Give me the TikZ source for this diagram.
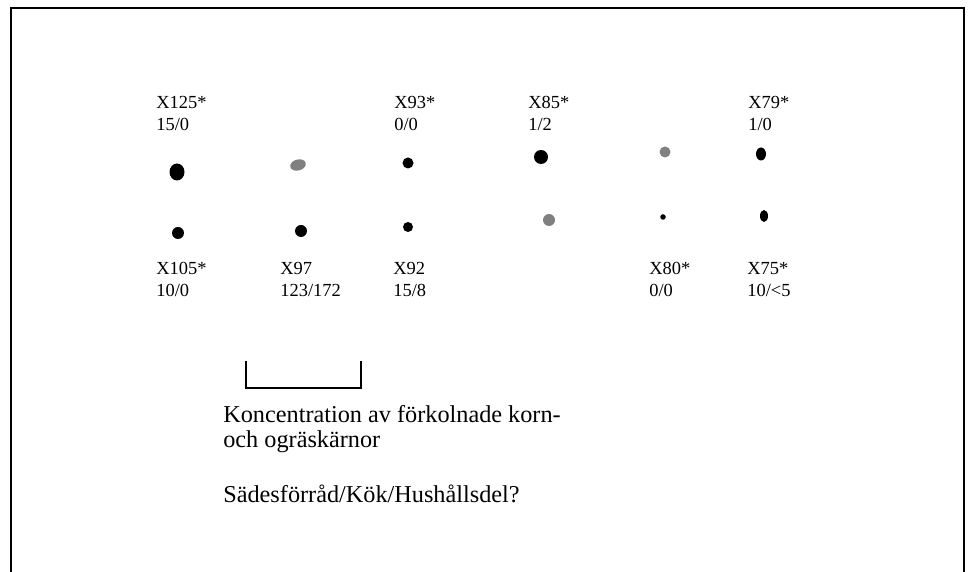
\documentclass[tikz,border=0pt]{standalone}
\usepackage{fontspec}
\setmainfont{Liberation Serif}
\begin{document}
\begin{tikzpicture}[lbl/.style={anchor=base west,inner sep=0pt,font=\fontsize{10.5pt}{12.5pt}\selectfont},
		txt/.style={anchor=base west,inner sep=0pt,font=\fontsize{13.8pt}{17pt}\selectfont}]
			\useasboundingbox (0,0) rectangle (19.42,-11.44);
			\draw[line width=1.1pt] (0.22,-11.8) -- (0.22,-0.16) -- (19.28,-0.16) -- (19.28,-11.8);
			% upper labels
			\node[lbl] (x125) at (3.12,-2.18) {X125*};
			\node[lbl] (x125n) at (3.12,-2.62) {15/0};
			\node[lbl] (x93) at (7.88,-2.18) {X93*};
			\node[lbl] (x93n) at (7.88,-2.62) {0/0};
			\node[lbl] (x85) at (10.56,-2.18) {X85*};
			\node[lbl] (x85n) at (10.56,-2.62) {1/2};
			\node[lbl] (x79) at (14.96,-2.18) {X79*};
			\node[lbl] (x79n) at (14.96,-2.62) {1/0};
			% lower labels
			\node[lbl] (x105) at (3.12,-5.50) {X105*};
			\node[lbl] (x105n) at (3.12,-5.94) {10/0};
			\node[lbl] (x97) at (5.60,-5.50) {X97};
			\node[lbl] (x97n) at (5.60,-5.94) {123/172};
			\node[lbl] (x92) at (7.86,-5.50) {X92};
			\node[lbl] (x92n) at (7.86,-5.94) {15/8};
			\node[lbl] (x80) at (12.98,-5.50) {X80*};
			\node[lbl] (x80n) at (12.98,-5.94) {0/0};
			\node[lbl] (x75) at (14.94,-5.50) {X75*};
			\node[lbl] (x75n) at (14.94,-5.94) {10/<5};
			% dots, upper row
			\fill (3.54,-3.44) ellipse [x radius=0.15cm, y radius=0.17cm];
			\fill[gray] (5.96,-3.30) ellipse [x radius=0.16cm, y radius=0.11cm, rotate=15];
			\fill (8.16,-3.26) circle (0.11cm);
			\fill (10.82,-3.14) circle (0.14cm);
			\fill[gray] (13.30,-3.04) circle (0.11cm);
			\fill (15.22,-3.08) ellipse [x radius=0.10cm, y radius=0.13cm];
			% dots, lower row
			\fill (3.56,-4.66) circle (0.12cm);
			\fill (6.02,-4.62) circle (0.12cm);
			\fill (8.16,-4.54) circle (0.10cm);
			\fill[gray] (10.98,-4.40) circle (0.12cm);
			\fill (13.26,-4.34) circle (0.055cm);
			\fill (15.28,-4.32) ellipse [x radius=0.08cm, y radius=0.12cm];
			% bracket
			\draw[line width=0.85pt] (4.92,-7.22) -- (4.92,-7.76) -- (7.22,-7.76) -- (7.22,-7.22);
			\node[txt] (konc) at (4.46,-8.46) {Koncentration av förkolnade korn-};
			\node[txt] (ogras) at (4.46,-8.96) {och ogräskärnor};
			\node[txt] (fraga) at (4.46,-10.06) {Sädesförråd/Kök/Hushållsdel?};
		\end{tikzpicture}
\end{document}
